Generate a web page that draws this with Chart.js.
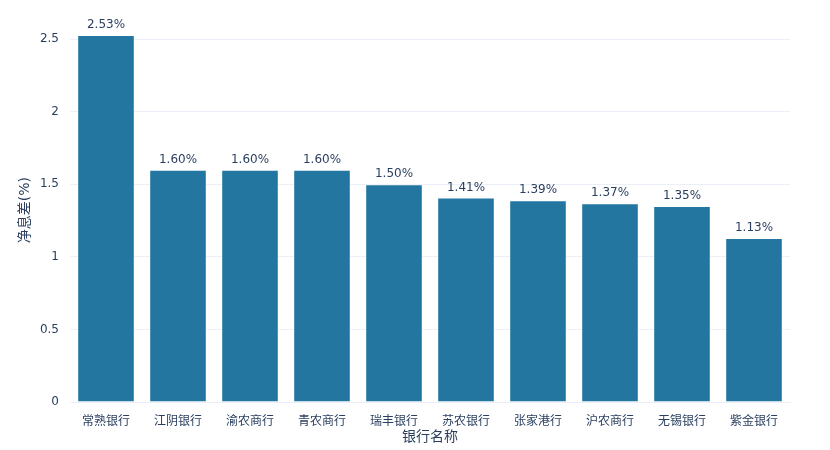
<!DOCTYPE html>
<html>
<head>
<meta charset="utf-8">
<script src="https://cdn.jsdelivr.net/npm/chart.js@4/dist/chart.umd.min.js"></script>
<style>
  html, body { margin: 0; padding: 0; background: #fff; }
  #wrap { width: 830px; height: 450px; }
</style>
</head>
<body>
<div id="wrap"><canvas id="chart"></canvas></div>
<script>
const banks = ['常熟银行', '江阴银行', '渝农商行', '青农商行', '瑞丰银行', '苏农银行', '张家港行', '沪农商行', '无锡银行', '紫金银行'];
const netInterestMargin = [2.53, 1.60, 1.60, 1.60, 1.50, 1.41, 1.39, 1.37, 1.35, 1.13];
const yTicks = [0, 0.5, 1, 1.5, 2, 2.5];

const textColor = '#2a3f5f';
const fontFamily = '"DejaVu Sans", verdana, "Noto Sans CJK SC", arial, sans-serif';

// labels above each bar
const barLabels = {
    id: 'barLabels',
    afterDatasetsDraw(chart) {
        const ctx = chart.ctx;
        const meta = chart.getDatasetMeta(0);
        ctx.save();
        ctx.fillStyle = textColor;
        ctx.font = '12px ' + fontFamily;
        ctx.textAlign = 'center';
        ctx.textBaseline = 'middle';
        meta.data.forEach((bar, i) => {
            ctx.fillText(netInterestMargin[i].toFixed(2) + '%', bar.x, bar.y - 10);
        });
        ctx.restore();
    }
};

new Chart(document.getElementById('chart'), {
    type: 'bar',
    data: {
        labels: banks,
        datasets: [{
            data: netInterestMargin,
            backgroundColor: '#2276a0',
            borderColor: 'rgba(255,255,255,0.35)',
            borderWidth: 1,
            categoryPercentage: 0.8,
            barPercentage: 1
        }]
    },
    options: {
        responsive: true,
        maintainAspectRatio: false,
        animation: false,
        layout: { padding: { left: 0, right: 40, top: 12, bottom: 0 } },
        plugins: {
            legend: { display: false },
            tooltip: { enabled: false }
        },
        scales: {
            x: {
                grid: { display: false, drawTicks: false },
                border: { display: true, color: '#ebf0f8' },
                ticks: { color: textColor, font: { size: 12, family: fontFamily }, padding: 13, maxRotation: 0 },
                title: {
                    display: true, text: '银行名称', color: textColor,
                    font: { size: 14, family: fontFamily }, padding: { top: 0, bottom: 4 }
                },
                afterFit(scale) { scale.height = 48; }
            },
            y: {
                min: 0,
                max: 2.645,
                afterBuildTicks(scale) { scale.ticks = yTicks.map(v => ({ value: v })); },
                grid: { color: '#ebf0f8', drawTicks: false },
                border: { display: false },
                ticks: {
                    color: textColor, font: { size: 12, family: fontFamily }, padding: 11,
                    callback: v => String(v)
                },
                title: {
                    display: true, text: '净息差(%)', color: textColor,
                    font: { size: 14, family: fontFamily }, padding: { top: 17, bottom: 0 }
                },
                afterFit(scale) { scale.width = 70; }
            }
        }
    },
    plugins: [barLabels]
});
</script>
</body>
</html>
